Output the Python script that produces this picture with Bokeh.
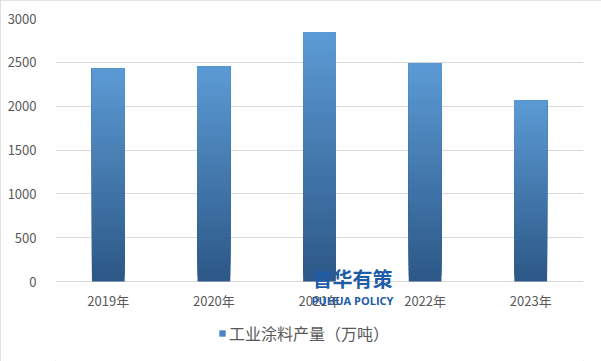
from bokeh.plotting import figure
from bokeh.models import FactorRange, Range1d, Label, Legend, LegendItem, FixedTicker
from bokeh.core.properties import value
from bokeh.embed import file_html
from bokeh.resources import INLINE

years = ["2019年", "2020年", "2021年", "2022年", "2023年"]
output = [2430, 2452, 2842, 2487, 2065]
series_name = "工业涂料产量（万吨）"
y_ticks = [0, 500, 1000, 1500, 2000, 2500, 3000]

FONT = "Noto Sans CJK SC"
TXT = "#595959"

p = figure(width=601, height=361, output_backend="svg", toolbar_location=None,
           x_range=FactorRange(*years), y_range=Range1d(-912, 3000),
           min_border_left=55, min_border_right=18, min_border_top=18, min_border_bottom=0)
p.outline_line_color = None
p.xaxis.visible = False
p.styles = {"outline": "1px solid #D9D9D9", "outline-offset": "-1px"}

# gradient bars: dark at bottom, light at top, built as overlapping slices of each bar
top_c = (0x5B, 0x9B, 0xD5)
bot_c = (0x2C, 0x57, 0x86)
N = 40
for i in range(N):
    f0 = i / N
    t = (i + 0.5) / N
    col = "#%02x%02x%02x" % tuple(int(round(bot_c[k] + (top_c[k] - bot_c[k]) * t)) for k in range(3))
    p.vbar(x=years, width=0.31, bottom=[v * f0 for v in output], top=output,
           fill_color=col, line_color=None)

# category labels below the zero line
p.text(x=years, y=[-217] * len(years), text=years, text_font=value(FONT), text_font_size="13px",
       text_color=TXT, text_align="center", text_baseline="middle")

dummy = p.vbar(x=[years[0]], top=[-5000], bottom=[-5100], width=0.3, fill_color="#4A86C5", line_color=None)

p.yaxis.ticker = FixedTicker(ticks=y_ticks)
p.yaxis.axis_line_color = None
p.yaxis.major_tick_line_color = None
p.yaxis.minor_tick_line_color = None
p.yaxis.major_label_text_font = FONT
p.yaxis.major_label_text_font_size = "13px"
p.yaxis.major_label_text_color = TXT
p.yaxis.major_label_standoff = 13

p.xgrid.grid_line_color = None
p.ygrid.grid_line_color = "#D9D9D9"
p.ygrid.ticker = FixedTicker(ticks=y_ticks)

legend = Legend(items=[LegendItem(label=series_name, renderers=[dummy])],
                location=(163, 16), orientation="horizontal",
                label_text_font=FONT, label_text_font_size="16px", label_text_color=TXT,
                glyph_width=8, glyph_height=8, label_standoff=3,
                border_line_color=None, background_fill_alpha=0, padding=4, margin=0)
p.add_layout(legend, "center")

p.add_layout(Label(x=297, y=34, x_units="screen", y_units="data", text="普华有策",
                   text_font=FONT, text_font_style="bold", text_font_size="20px",
                   text_color="#1E5CA8", text_align="center", text_baseline="middle"))
p.add_layout(Label(x=297, y=-217, x_units="screen", y_units="data", text="PUHUA POLICY",
                   text_font="Open Sans", text_font_style="bold", text_font_size="11px",
                   text_color="#1E5CA8", text_align="center", text_baseline="middle"))

open("out.html", "w").write(file_html(p, INLINE))
